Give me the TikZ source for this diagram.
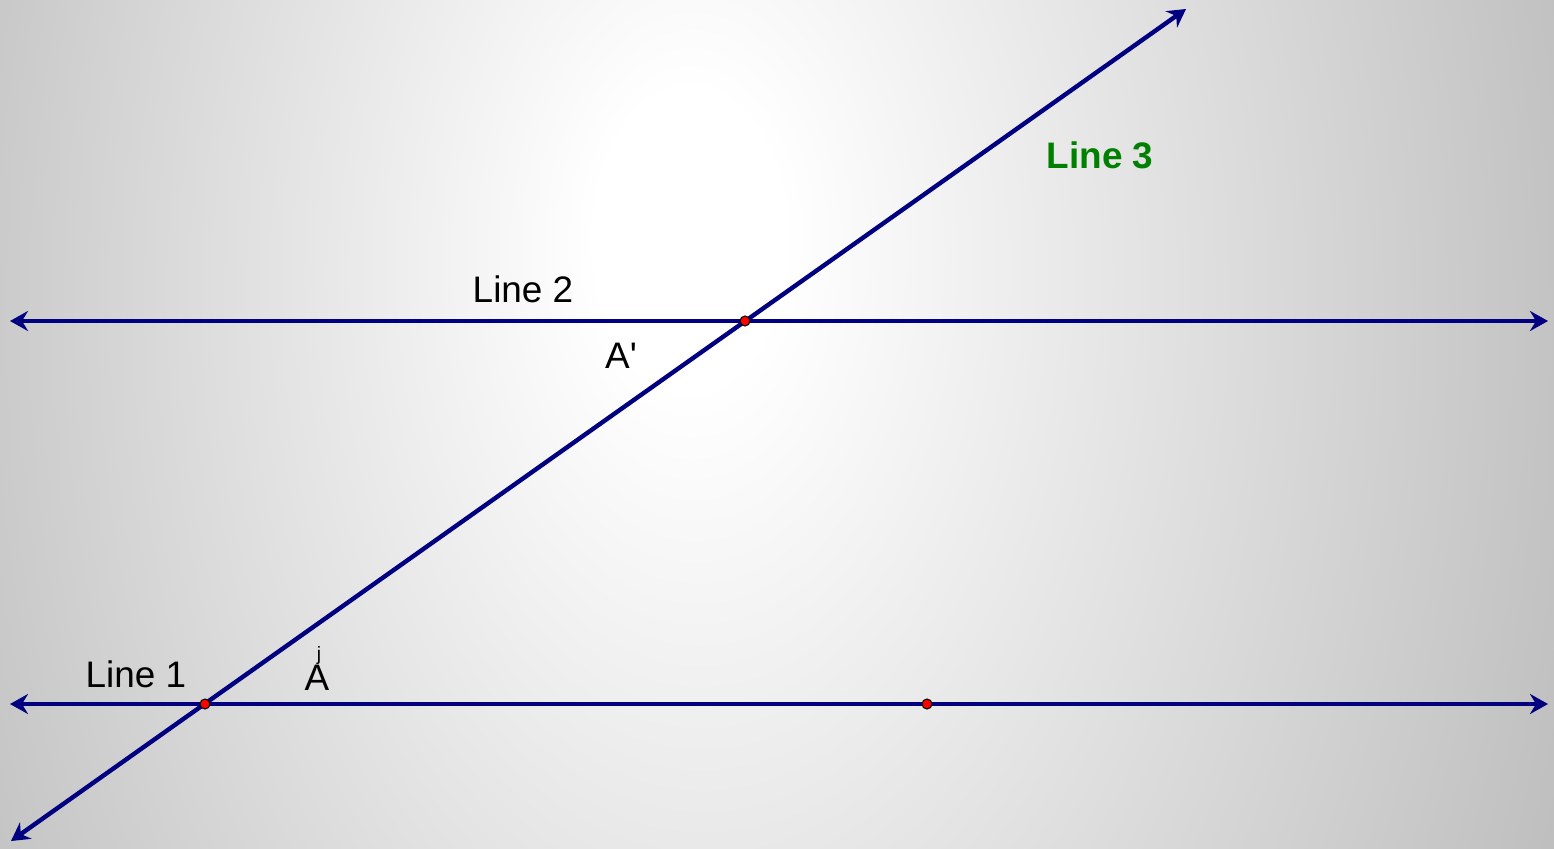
\documentclass[tikz,border=0pt]{standalone}
\usepackage{fontspec}
\setmainfont{Liberation Sans}[Ligatures=TeXOff]
\usepackage{xcolor}
\usetikzlibrary{arrows.meta,calc}
\definecolor{navyline}{HTML}{000080}
\definecolor{labelgreen}{HTML}{008000}
\definecolor{ptred}{HTML}{FF0000}
\pgfdeclareradialshading{bgshade}{\pgfpoint{-3bp}{4bp}}{%
  color(0bp)=(white); color(3bp)=(white); color(7bp)=(black!4); color(16bp)=(black!13);
  color(28bp)=(black!25); color(36bp)=(black!30); color(50bp)=(black!33)}
\tikzset{
  geoline/.style={{Stealth[length=1.8mm,width=2.0mm,inset=0.6mm]}-{Stealth[length=1.8mm,width=2.0mm,inset=0.6mm]},line width=1.25pt,draw=navyline},
  pt/.style={circle,fill=ptred,draw=black,line width=0.3pt,inner sep=0pt,minimum size=1.0mm},
  lbl/.style={font=\fontsize{10.5}{12}\selectfont,text=black,inner sep=1pt},
  tiny lbl/.style={font=\fontsize{5.5}{6}\selectfont,text=black,inner sep=0pt}
}
\begin{document}
\begin{tikzpicture}
    % background
    \begin{scope}
      \clip (0,0) rectangle (15.54,8.48);
      \shade[shading=bgshade] (0,-8) rectangle (15.54,16.5);
    \end{scope}
    \useasboundingbox (0,0) rectangle (15.54,8.48);

    \coordinate (l1w) at (0.10,1.44);
    \coordinate (l1e) at (15.48,1.44);
    \coordinate (l2w) at (0.10,5.27);
    \coordinate (l2e) at (15.48,5.27);
    \coordinate (l3s) at (0.11,0.07);
    \coordinate (l3n) at (11.86,8.39);

    \draw[geoline] (l1w) -- (l1e);
    \draw[geoline] (l2w) -- (l2e);
    \draw[geoline] (l3s) -- (l3n);

    \node[pt] (p1) at (2.05,1.44) {};
    \node[pt] (p2) at (7.45,5.27) {};
    \node[pt] (p3) at (9.27,1.44) {};

    \node[lbl] (line1) at (1.36,1.74) {Line 1};
    \node[lbl] (line2) at (5.23,5.59) {Line 2};
    \node[lbl,text=labelgreen,font=\fontsize{10.5}{12}\selectfont\bfseries] (line3) at (11.00,6.93) {Line 3};
    \node[lbl] (aprime) at (6.21,4.92) {A'};
    \node[lbl] (a) at (3.17,1.70) {A};
    \node[tiny lbl] (j) at (3.19,1.93) {j};
\end{tikzpicture}
\end{document}
